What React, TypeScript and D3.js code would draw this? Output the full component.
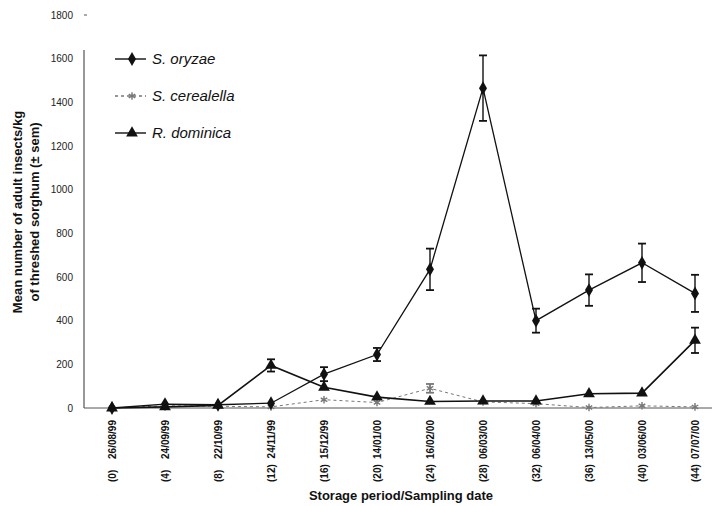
import React from "react";
import * as d3 from "d3";

const weeks = ["(0)", "(4)", "(8)", "(12)", "(16)", "(20)", "(24)", "(28)", "(32)", "(36)", "(40)", "(44)"];
const dates = ["26/08/99", "24/09/99", "22/10/99", "24/11/99", "15/12/99", "14/01/00", "16/02/00", "06/03/00", "06/04/00", "13/05/00", "03/06/00", "07/07/00"];

const oryzae = [0, 18, 15, 22, 155, 245, 635, 1465, 400, 540, 665, 525];
const oryzaeSem = [0, 0, 0, 0, 32, 30, 95, 150, 55, 72, 88, 85];
const cerealella = [0, 10, 8, 5, 38, 25, 90, 28, 20, 2, 10, 5];
const cerealellaSem = [0, 0, 0, 0, 0, 0, 20, 0, 0, 0, 0, 0];
const dominica = [0, 5, 12, 195, 95, 50, 30, 32, 32, 65, 68, 310];
const dominicaSem = [0, 0, 0, 28, 0, 0, 0, 0, 0, 0, 0, 58];

const yTicks = [0, 200, 400, 600, 800, 1000, 1200, 1400, 1600, 1800];
const seriesNames = ["S. oryzae", "S. cerealella", "R. dominica"];

const W = 715;
const H = 506;

const x = d3.scalePoint<string>().domain(weeks).range([112, 695]);
const y = d3.scaleLinear().domain([0, 1800]).range([408, 15]);

type Shape = "diamond" | "star" | "triangle";

function Marker({ cx, cy, shape, color }: { cx: number; cy: number; shape: Shape; color: string }) {
  if (shape === "diamond") {
    const p = d3.symbol().type(d3.symbolDiamond).size(55)();
    return <path d={p || ""} transform={`translate(${cx},${cy})`} fill={color} />;
  }
  if (shape === "triangle") {
    const p = d3.symbol().type(d3.symbolTriangle).size(60)();
    return <path d={p || ""} transform={`translate(${cx},${cy})`} fill={color} />;
  }
  const p = d3.symbol().type(d3.symbolAsterisk).size(40)();
  return <path d={p || ""} transform={`translate(${cx},${cy})`} fill="none" stroke={color} strokeWidth={1.4} />;
}

function Series({ values, sem, shape, color, dash, width }: { values: number[]; sem: number[]; shape: Shape; color: string; dash?: string; width: number }) {
  const line = d3
    .line<number>()
    .x((_, i) => x(weeks[i]) as number)
    .y((d) => y(d));
  return (
    <g>
      <path d={line(values) || ""} fill="none" stroke={color} strokeWidth={width} strokeDasharray={dash} />
      {values.map((v, i) => {
        const cx = x(weeks[i]) as number;
        const s = sem[i];
        return (
          <g key={i}>
            {s > 0 && (
              <g stroke={color} strokeWidth={1.4}>
                <line x1={cx} x2={cx} y1={y(v + s)} y2={y(v - s)} />
                <line x1={cx - 4} x2={cx + 4} y1={y(v + s)} y2={y(v + s)} strokeWidth={1.8} />
                <line x1={cx - 4} x2={cx + 4} y1={y(v - s)} y2={y(v - s)} strokeWidth={1.8} />
              </g>
            )}
            <Marker cx={cx} cy={y(v)} shape={shape} color={color} />
          </g>
        );
      })}
    </g>
  );
}

export default function App() {
  const font = "Arial, 'Liberation Sans', Helvetica, sans-serif";
  const legend = [
    { name: seriesNames[0], shape: "diamond" as Shape, color: "#111", dash: undefined, yy: 59 },
    { name: seriesNames[1], shape: "star" as Shape, color: "#777", dash: "3,3", yy: 96 },
    { name: seriesNames[2], shape: "triangle" as Shape, color: "#111", dash: undefined, yy: 133 },
  ];
  return (
    <svg width={W} height={H} style={{ position: "absolute", left: 0, top: 0, background: "#fff" }} fontFamily={font}>
      <rect width={W} height={H} fill="#fff" />
      {/* axes */}
      <line x1={84} x2={84} y1={50} y2={408} stroke="#333" strokeWidth={1} />
      <line x1={84} x2={712} y1={408} y2={408} stroke="#555" strokeWidth={1} />
      <line x1={84} x2={87} y1={y(1800)} y2={y(1800)} stroke="#555" strokeWidth={1} />
      {yTicks.map((t) => (
        <text key={t} x={73} y={y(t)} dy="0.35em" textAnchor="end" fontSize={10} fill="#222">
          {t}
        </text>
      ))}
      <g fontWeight="bold" fontSize={13} fill="#111" textAnchor="middle">
        <text transform={`translate(22,212) rotate(-90)`}>Mean number of adult insects/kg</text>
        <text transform={`translate(39,212) rotate(-90)`}>of threshed sorghum (± sem)</text>
      </g>
      {/* x tick labels */}
      {weeks.map((w, i) => {
        const cx = (x(w) as number) + 3.5;
        return (
          <g key={w} fontSize={10} fontWeight="bold" fill="#111">
            <text transform={`translate(${cx},420) rotate(-90)`} textAnchor="end">
              {dates[i]}
            </text>
            <text transform={`translate(${cx},482) rotate(-90)`} textAnchor="start">
              {w}
            </text>
          </g>
        );
      })}
      <text x={401} y={500} textAnchor="middle" fontSize={13} fontWeight="bold" fill="#111">
        Storage period/Sampling date
      </text>
      {/* series */}
      <Series values={cerealella} sem={cerealellaSem} shape="star" color="#777" dash="3,3" width={1} />
      <Series values={dominica} sem={dominicaSem} shape="triangle" color="#111" width={1.6} />
      <Series values={oryzae} sem={oryzaeSem} shape="diamond" color="#111" width={1.3} />
      {/* legend */}
      {legend.map((l) => (
        <g key={l.name}>
          <line x1={115} x2={146} y1={l.yy} y2={l.yy} stroke={l.color} strokeWidth={1.4} strokeDasharray={l.dash} />
          <Marker cx={132} cy={l.yy} shape={l.shape} color={l.color} />
          <text x={152} y={l.yy} dy="0.35em" fontSize={15} fontStyle="italic" fill="#111">
            {l.name}
          </text>
        </g>
      ))}
    </svg>
  );
}
